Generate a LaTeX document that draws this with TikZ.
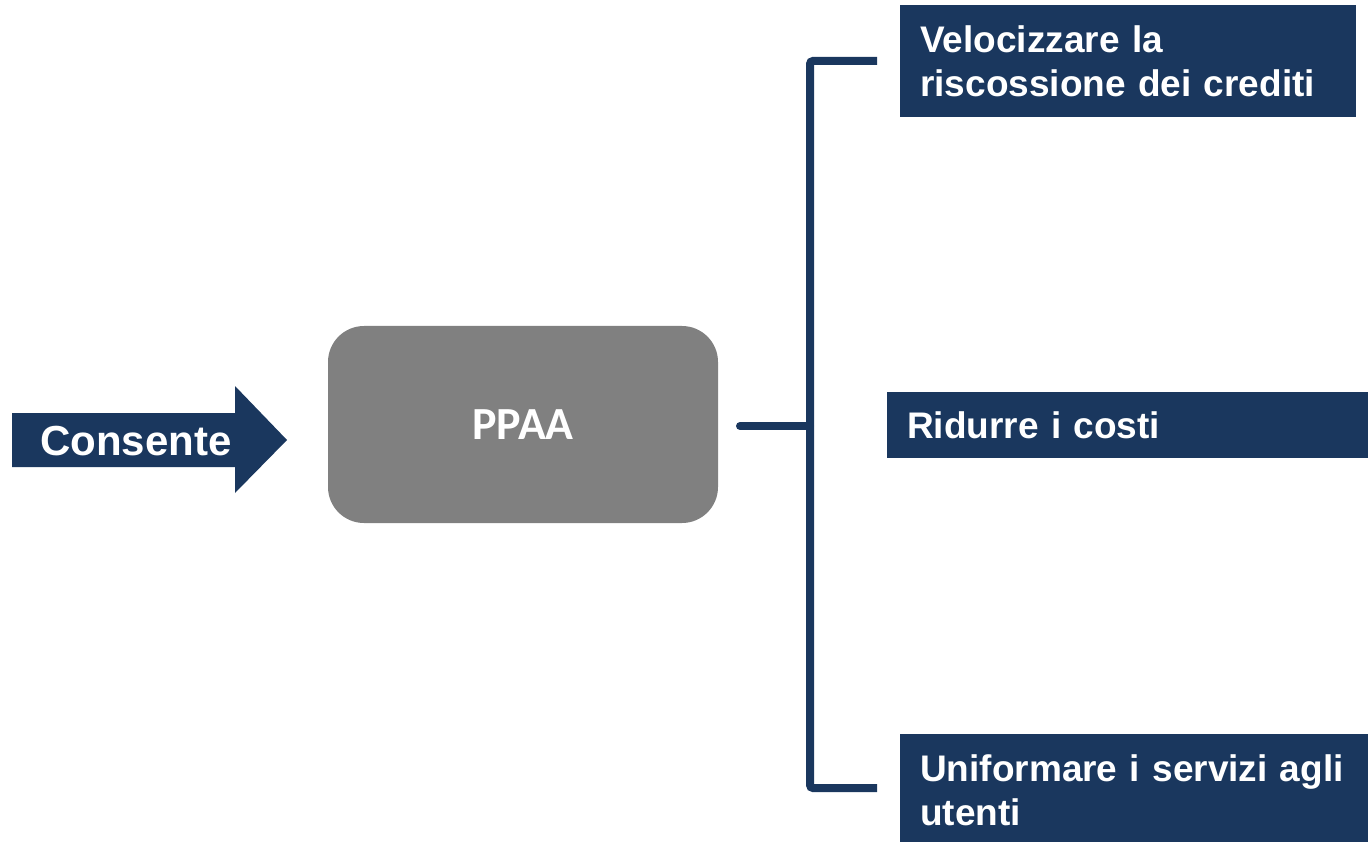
\documentclass[tikz,border=0pt]{standalone}
\usepackage{fontspec}
\setmainfont{Liberation Sans}
\newfontfamily\calib{Carlito}
\definecolor{navy}{HTML}{1A375E}
\definecolor{boxgray}{HTML}{808080}
\tikzset{
  goalbox/.style={fill=navy, text=white, font=\bfseries\fontsize{37}{44}\selectfont, anchor=north west, inner xsep=20pt, inner ysep=0pt, align=left},
  bracket/.style={draw=navy, line width=8pt},
}
\begin{document}
\begin{tikzpicture}[x=1pt,y=-1pt]
\useasboundingbox (0,0) rectangle (1368,842);
% arrow
\fill[navy] (12,413) -- (235,413) -- (235,386) -- (287,440) -- (235,493) -- (235,467) -- (12,467) -- cycle;
\node[text=white, font=\bfseries\fontsize{42}{50}\selectfont] (cons) at (136,441) {Consente};
% PPAA
\node[fill=boxgray, rounded corners=36pt, minimum width=390pt, minimum height=197pt, text=white, font=\calib\bfseries\fontsize{46}{54}\selectfont] (p) at (523,424.5) {PPAA};
% goal boxes
\node[goalbox, minimum width=456pt, minimum height=112pt, text width=416pt] (g1) at (900,5) {Velocizzare la\\riscossione dei crediti};
\node[goalbox, minimum width=481pt, minimum height=66pt, text width=441pt] (g2) at (887,392) {Ridurre i costi};
\node[goalbox, minimum width=468pt, minimum height=112pt, text width=428pt] (g3) at (900,734) {Uniformare i servizi agli\\utenti};
% connectors
\coordinate (s) at (740,426);
\coordinate (j) at (810,426);
\coordinate (t) at (810,61);
\coordinate (tt) at (877,61);
\coordinate (b) at (810,788);
\coordinate (bb) at (877,788);
\draw[bracket, line cap=round] (s) -- (j);
\draw[bracket, rounded corners=3pt] (tt) -- (t) -- (b) -- (bb);
\end{tikzpicture}
\end{document}
